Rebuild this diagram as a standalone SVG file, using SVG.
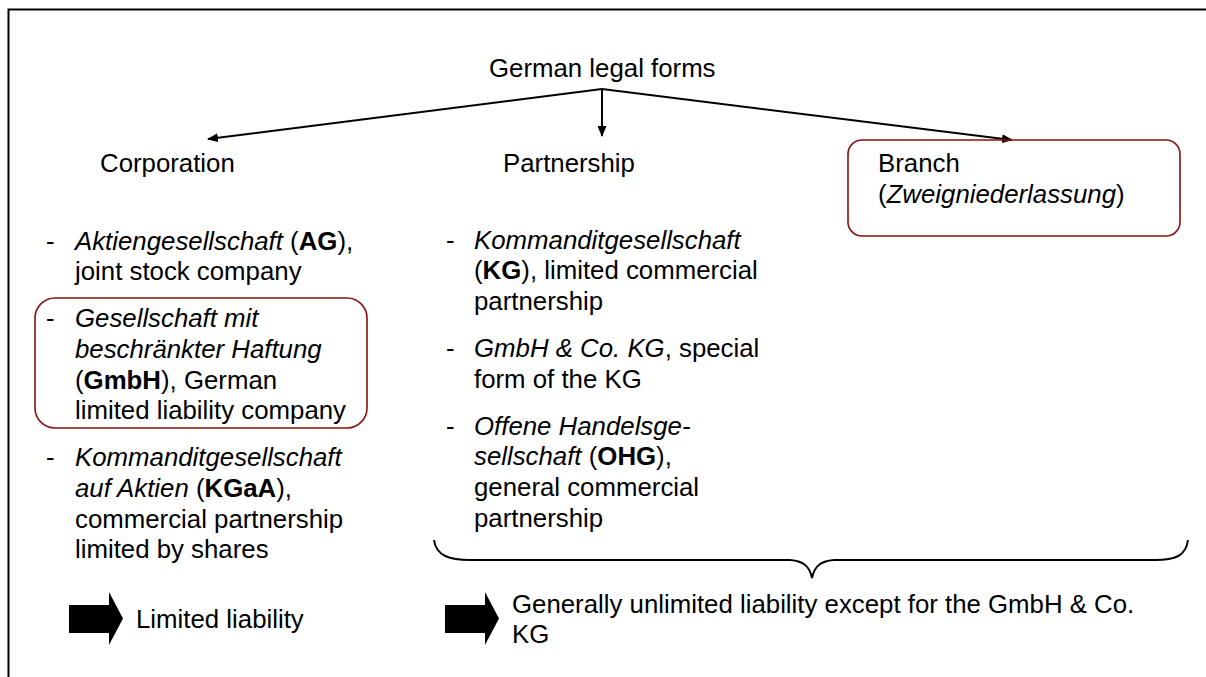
<svg xmlns="http://www.w3.org/2000/svg" width="1206" height="677" viewBox="0 0 1206 677">
<style>
text{font-family:"Liberation Sans",Arial,sans-serif;font-size:25.8px;fill:#000}
.i{font-style:italic}
.b{font-weight:bold}
.box{fill:none;stroke:#8b1010;stroke-width:1.6}
.con{fill:none;stroke:#000;stroke-width:2}
</style>
<defs>
<marker id="ah" markerWidth="11" markerHeight="9" refX="10" refY="4.5" orient="auto" markerUnits="userSpaceOnUse">
<path d="M0,0 L11,4.5 L0,9 Z" fill="#000"/>
</marker>
</defs>
<rect width="1206" height="677" fill="#fff"/>
<path d="M8.5,677 V9.5 H1206" fill="none" stroke="#000" stroke-width="2"/>

<g id="root"><text x="489" y="77">German legal forms</text></g>

<g id="connectors">
<line class="con" x1="602" y1="89" x2="208" y2="139" marker-end="url(#ah)"/>
<line class="con" x1="602" y1="89" x2="602" y2="136" marker-end="url(#ah)"/>
<line class="con" x1="602" y1="89" x2="1012" y2="140" marker-end="url(#ah)"/>
</g>

<g id="corporation">
<text x="100" y="172">Corporation</text>
<text x="46" y="250">-</text>
<text x="75" y="250"><tspan class="i">Aktiengesellschaft</tspan> (<tspan class="b">AG</tspan>),</text>
<text x="75" y="280">joint stock company</text>
<g id="gmbh">
<rect class="box" x="35" y="298" width="332" height="130" rx="20"/>
<text x="46" y="327">-</text>
<text x="75" y="327" class="i">Gesellschaft mit</text>
<text x="75" y="358" class="i">beschränkter Haftung</text>
<text x="75" y="389">(<tspan class="b">GmbH</tspan>), German</text>
<text x="75" y="419">limited liability company</text>
</g>
<text x="46" y="466">-</text>
<text x="75" y="466"><tspan class="i">Kommanditgesellschaft</tspan></text>
<text x="75" y="497"><tspan class="i">auf Aktien</tspan> (<tspan class="b">KGaA</tspan>),</text>
<text x="75" y="528">commercial partnership</text>
<text x="75" y="558">limited by shares</text>
</g>

<g id="partnership">
<text x="503" y="172">Partnership</text>
<text x="446" y="249">-</text>
<text x="474" y="249" class="i">Kommanditgesellschaft</text>
<text x="474" y="279">(<tspan class="b">KG</tspan>), limited commercial</text>
<text x="474" y="310">partnership</text>
<text x="446" y="357">-</text>
<text x="474" y="357"><tspan class="i">GmbH &amp; Co. KG</tspan>, special</text>
<text x="474" y="388">form of the KG</text>
<text x="446" y="435">-</text>
<text x="474" y="435" class="i">Offene Handelsge-</text>
<text x="474" y="465"><tspan class="i">sellschaft</tspan> (<tspan class="b">OHG</tspan>),</text>
<text x="474" y="496">general commercial</text>
<text x="474" y="527">partnership</text>
</g>

<g id="branch">
<rect class="box" x="848" y="140" width="332" height="96" rx="14"/>
<text x="878" y="172">Branch</text>
<text x="878" y="203">(<tspan class="i">Zweigniederlassung</tspan>)</text>
</g>

<g id="brace">
<path class="con" stroke-width="1.6" d="M434,540 C436,556 450,560 470,560 L790,560 C805,561 810,568 812,578 C814,568 819,561 834,560 L1155,560 C1175,560 1186,556 1188,540"/>
</g>

<g id="limited">
<path d="M69,605 H109 V592 L123,618.5 L109,645 V633 H69 Z" fill="#000"/>
<text x="136" y="628">Limited liability</text>
</g>

<g id="unlimited">
<path d="M445,605 H485 V592 L499,618.5 L485,645 V633 H445 Z" fill="#000"/>
<text x="512" y="613">Generally unlimited liability except for the GmbH &amp; Co.</text>
<text x="512" y="643">KG</text>
</g>
</svg>
